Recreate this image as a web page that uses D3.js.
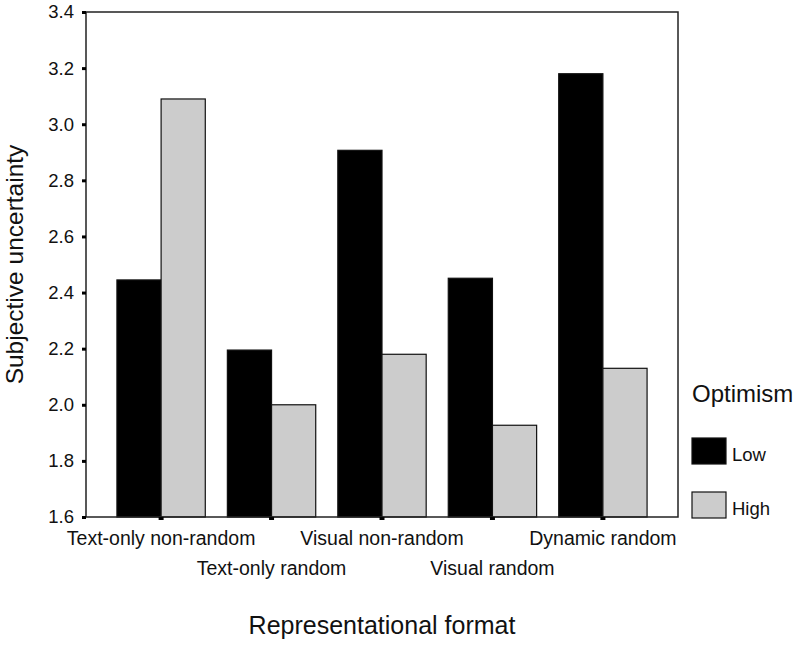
<!DOCTYPE html>
<html>
<head>
<meta charset="utf-8">
<script src="https://cdn.jsdelivr.net/npm/d3@7"></script>
<style>
  body { margin: 0; background: #fff; }
  text { font-family: "Liberation Sans", Arial, sans-serif; fill: #111; }
</style>
</head>
<body>
<div id="chart"></div>
<script>
// data
const formats = ['Text-only non-random', 'Text-only random', 'Visual non-random', 'Visual random', 'Dynamic random'];
const groups = ['Low', 'High'];
const lowValues = [2.445, 2.195, 2.907, 2.451, 3.18];
const highValues = [3.09, 2.0, 2.18, 1.927, 2.13];
const yTicks = [1.6, 1.8, 2.0, 2.2, 2.4, 2.6, 2.8, 3.0, 3.2, 3.4];

var chartW = 800, chartH = 650;
var plotLeft = 86, plotRight = 678, plotTop = 12, plotBottom = 517;

var svg = d3.select('#chart').append('svg')
  .attr('width', chartW)
  .attr('height', chartH);

var x = d3.scaleBand().domain(formats).range([plotLeft, plotRight])
  .paddingInner(0.2).paddingOuter(0.28);
var x1 = d3.scaleBand().domain(groups).range([0, x.bandwidth()]);
var y = d3.scaleLinear().domain([1.6, 3.4]).range([plotBottom, plotTop]);
var color = d3.scaleOrdinal().domain(groups).range(['#000000', '#cccccc']);

var rows = formats.map(function (f, i) {
  return { key: f, values: [ { g: 'Low', v: lowValues[i] }, { g: 'High', v: highValues[i] } ] };
});

// bars
svg.append('g').selectAll('g')
  .data(rows)
  .enter().append('g')
  .attr('transform', function (d) { return 'translate(' + x(d.key) + ',0)'; })
  .selectAll('rect')
  .data(function (d) { return d.values; })
  .enter().append('rect')
  .attr('x', function (d) { return x1(d.g); })
  .attr('width', x1.bandwidth())
  .attr('y', function (d) { return y(d.v); })
  .attr('height', function (d) { return plotBottom - y(d.v); })
  .attr('fill', function (d) { return color(d.g); })
  .attr('stroke', '#111')
  .attr('stroke-width', 1.2);

// frame
svg.append('rect')
  .attr('x', plotLeft).attr('y', plotTop)
  .attr('width', plotRight - plotLeft).attr('height', plotBottom - plotTop)
  .attr('fill', 'none')
  .attr('stroke', '#222')
  .attr('stroke-width', 1.5);

// y axis: tiny square ticks
var yAxis = svg.append('g').attr('transform', 'translate(' + plotLeft + ',0)')
  .call(d3.axisLeft(y).tickValues(yTicks).tickFormat(d3.format('.1f')).tickSize(4).tickPadding(8));
yAxis.select('.domain').remove();
yAxis.selectAll('.tick line').attr('stroke', '#000').attr('stroke-width', 3);
yAxis.selectAll('.tick text').style('font-size', '18.5px').style('font-family', '"Liberation Sans", Arial, sans-serif').attr('fill', '#111');

// x axis: tiny ticks, labels staggered on two rows
var xAxis = svg.append('g').attr('transform', 'translate(0,' + plotBottom + ')')
  .call(d3.axisBottom(x).tickSize(3).tickPadding(10));
xAxis.select('.domain').remove();
xAxis.selectAll('.tick line').attr('stroke', '#000').attr('stroke-width', 5);
xAxis.selectAll('.tick text')
  .style('font-size', '19.5px')
  .style('font-family', '"Liberation Sans", Arial, sans-serif')
  .attr('fill', '#111')
  .attr('y', function (d, i) { return i % 2 === 0 ? 14 : 44; });

// axis titles
svg.append('text')
  .attr('x', 382)
  .attr('y', 634)
  .attr('text-anchor', 'middle')
  .style('font-size', '25px')
  .text('Representational format');

svg.append('text')
  .attr('transform', 'translate(23,' + (plotTop + plotBottom) / 2 + ') rotate(-90)')
  .attr('text-anchor', 'middle')
  .style('font-size', '24.5px')
  .text('Subjective uncertainty');

// legend
var legend = svg.append('g');
legend.append('text')
  .attr('x', 692).attr('y', 402)
  .style('font-size', '24px')
  .text('Optimism');

var item = legend.selectAll('.item')
  .data(groups)
  .enter().append('g')
  .attr('transform', function (d, i) { return 'translate(692,' + (438 + i * 54) + ')'; });
item.append('rect')
  .attr('width', 34).attr('height', 26)
  .attr('fill', function (d) { return color(d); })
  .attr('stroke', '#111')
  .attr('stroke-width', 1.2);
item.append('text')
  .attr('x', 40).attr('y', 23)
  .style('font-size', '18.5px')
  .text(function (d) { return d; });
</script>
</body>
</html>
